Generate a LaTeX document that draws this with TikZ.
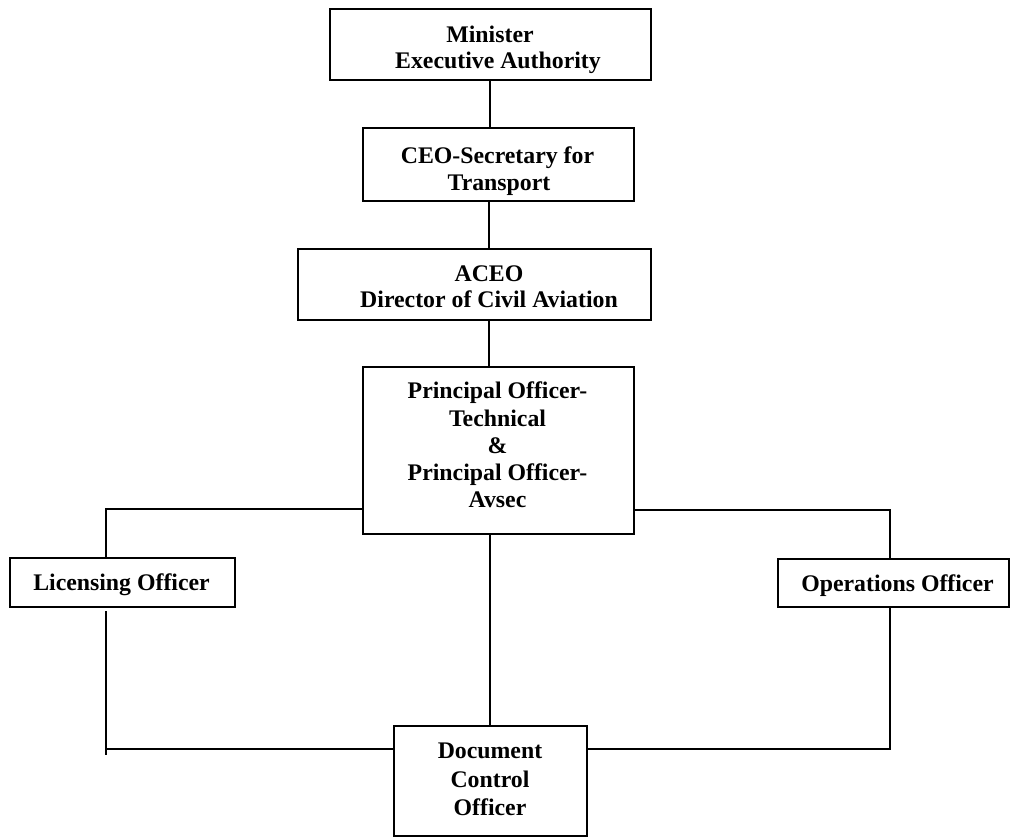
\documentclass[tikz,border=0pt]{standalone}
\usepackage{fontspec}
\setmainfont{Liberation Serif}
\begin{document}
\begin{tikzpicture}[x=1pt,y=-1pt,
  box/.style={draw, line width=1.9pt, inner sep=0pt, anchor=north west},
  conn/.style={line width=1.9pt},
  txt/.style={anchor=base, inner sep=0pt, font=\fontsize{23.8pt}{27pt}\selectfont\bfseries}]
\useasboundingbox (0,0) rectangle (1010,839);
% boxes
\node[box, minimum width=321pt, minimum height=71pt] (m) at (329,8) {};
\node[box, minimum width=271pt, minimum height=73pt] (c) at (362,127) {};
\node[box, minimum width=353pt, minimum height=71pt] (a) at (297,248) {};
\node[box, minimum width=271pt, minimum height=167pt] (p) at (362,366) {};
\node[box, minimum width=225pt, minimum height=49pt] (l) at (9,557) {};
\node[box, minimum width=231pt, minimum height=48pt] (o) at (777,558) {};
\node[box, minimum width=193pt, minimum height=110pt] (d) at (393,725) {};
% texts
\begin{scope}
  \clip (m.south west) rectangle (m.north east);
  \node[txt] (m1) at (490,42) {Minister};
  \node[txt] (m2) at (498,68) {Executive Authority};
\end{scope}
\begin{scope}
  \clip (c.south west) rectangle (c.north east);
  \node[txt] (c1) at (497.5,163) {CEO-Secretary for};
  \node[txt] (c2) at (499,190) {Transport};
\end{scope}
\node[txt] (a1) at (489,281) {ACEO};
\node[txt] (a2) at (489,307) {Director of Civil Aviation};
\node[txt] (p1) at (497.5,398) {Principal Officer-};
\node[txt] (p2) at (497.5,426) {Technical};
\node[txt] (p3) at (497.5,453) {\&};
\node[txt] (p4) at (497.5,480) {Principal Officer-};
\node[txt] (p5) at (497.5,507) {Avsec};
\node[txt] (l1) at (121.5,590) {Licensing Officer};
\node[txt] (o1) at (897.5,591) {Operations Officer};
\node[txt] (d1) at (490,758) {Document};
\node[txt] (d2) at (490,787) {Control};
\node[txt] (d3) at (490,815) {Officer};
% connectors
\coordinate (spine) at (490,0);
\coordinate (spine2) at (489,0);
\draw[conn] (m.south -| spine) -- (c.north -| spine);
\draw[conn] (c.south -| spine2) -- (a.north -| spine2);
\draw[conn] (a.south -| spine2) -- (p.north -| spine2);
\draw[conn] (p.south -| spine) -- (d.north -| spine);
\coordinate (lb) at (106,509);
\draw[conn] (p.west |- lb) -- (lb) -- (l.north -| lb);
\coordinate (rb) at (890,510);
\draw[conn] (p.east |- rb) -- (rb) -- (o.north -| rb);
\coordinate (lt) at (106,611);
\coordinate (lbot) at (106,755);
\coordinate (lh) at (106,749);
\draw[conn] (lt) -- (lbot);
\draw[conn] (lh) -- (d.west |- lh);
\coordinate (rh) at (890,749);
\draw[conn] (o.south -| rh) -- (rh) -- (d.east |- rh);
\end{tikzpicture}
\end{document}
